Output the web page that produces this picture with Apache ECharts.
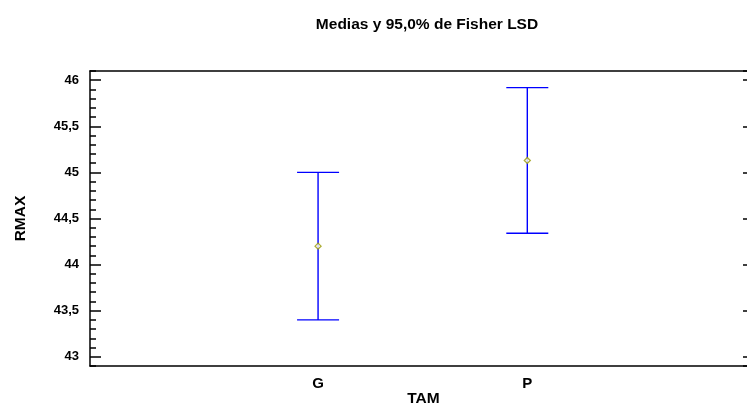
<!DOCTYPE html>
<html>
<head>
<meta charset="utf-8">
<script src="https://cdn.jsdelivr.net/npm/echarts@6/dist/echarts.min.js"></script>
<style>html,body{margin:0;padding:0;background:#fff}#c{width:747px;height:407px}</style>
</head>
<body>
<div id="c"></div>
<script>
const categories = ['G', 'P'];
const catPos = [1, 2];
const means = [44.20, 45.13];
const lower = [43.40, 44.34];
const upper = [45.00, 45.92];
const titleText = 'Medias y 95,0% de Fisher LSD';
const xName = 'TAM';
const yName = 'RMAX';

const FONT = '"Liberation Sans", Arial, sans-serif';
const chart = echarts.init(document.getElementById('c'), null, {renderer: 'canvas'});

const barData = categories.map((c, i) => [catPos[i], lower[i], upper[i]]);
const meanData = categories.map((c, i) => [catPos[i], means[i]]);

function fmtY(v) {
  const r = Math.round(v * 10) / 10;
  if (Math.abs(r * 2 - Math.round(r * 2)) > 1e-6) return '';
  return String(r).replace('.', ',');
}

const yRange = {min: 42.9, max: 46.1};

chart.setOption({
  animation: false,
  title: {
    text: titleText, left: 422, top: 12, textAlign: 'center',
    textStyle: {fontFamily: FONT, fontWeight: 'bold', fontSize: 15.5, color: '#000'}
  },
  grid: {left: 90, right: 0, top: 71, bottom: 41, containLabel: false, outerBoundsMode: 'none'},
  xAxis: [
    {
      type: 'value', position: 'bottom', min: -0.09, max: 3.05, splitNumber: 3,
      axisLine: {show: true, lineStyle: {color: '#000', width: 1.5}},
      axisTick: {show: false}, splitLine: {show: false},
      axisLabel: {
        show: true, showMinLabel: false, showMaxLabel: false, margin: 10,
        fontFamily: FONT, fontWeight: 'bold', fontSize: 15, color: '#000',
        formatter: v => { const i = catPos.indexOf(Math.round(v * 1000) / 1000); return i >= 0 ? categories[i] : ''; }
      },
      name: xName, nameLocation: 'middle', nameGap: 25, nameMoveOverlap: false,
      nameTextStyle: {fontFamily: FONT, fontWeight: 'bold', fontSize: 15.5, color: '#000', padding: [0, 0, 0, 10]}
    },
    {
      type: 'value', position: 'top', min: -0.09, max: 3.05,
      axisLine: {show: true, lineStyle: {color: '#000', width: 1.5}},
      axisTick: {show: false}, axisLabel: {show: false}, splitLine: {show: false}
    }
  ],
  yAxis: [
    {
      type: 'value', position: 'left', min: yRange.min, max: yRange.max, splitNumber: 6,
      axisLine: {show: true, onZero: false, lineStyle: {color: '#000', width: 1.5}},
      axisTick: {show: true, inside: true, length: 11, lineStyle: {color: '#000', width: 1.5}},
      minorTick: {show: false},
      splitLine: {show: false},
      axisLabel: {
        showMinLabel: false, showMaxLabel: false, margin: 11,
        fontFamily: FONT, fontWeight: 'bold', fontSize: 13, color: '#000', formatter: fmtY
      },
      name: yName, nameLocation: 'middle', nameGap: 61, nameRotate: 90, nameMoveOverlap: false,
      nameTextStyle: {fontFamily: FONT, fontWeight: 'bold', fontSize: 15.5, color: '#000'}
    },
    {
      type: 'value', position: 'left', min: yRange.min, max: yRange.max, interval: 0.1,
      axisLine: {show: false, onZero: false},
      axisTick: {show: true, inside: true, length: 6, lineStyle: {color: '#000', width: 1.5}},
      axisLabel: {show: false}, splitLine: {show: false}
    },
    {
      type: 'value', position: 'right', min: yRange.min, max: yRange.max, splitNumber: 6,
      axisLine: {show: false, onZero: false},
      axisTick: {show: true, inside: true, length: 4, lineStyle: {color: '#000', width: 1.5}},
      axisLabel: {show: false}, splitLine: {show: false}
    }
  ],
  series: [
    {
      type: 'custom', xAxisIndex: 0, yAxisIndex: 0, data: barData,
      renderItem: function (params, api) {
        const x = api.value(0);
        const lo = api.coord([x, api.value(1)]);
        const hi = api.coord([x, api.value(2)]);
        const hw = 21;
        const style = {stroke: '#0000FF', lineWidth: 1.4, fill: null};
        return {
          type: 'group',
          children: [
            {type: 'line', shape: {x1: lo[0], y1: lo[1], x2: hi[0], y2: hi[1]}, style: style},
            {type: 'line', shape: {x1: hi[0] - hw, y1: hi[1], x2: hi[0] + hw, y2: hi[1]}, style: style},
            {type: 'line', shape: {x1: lo[0] - hw, y1: lo[1], x2: lo[0] + hw, y2: lo[1]}, style: style}
          ]
        };
      },
      z: 2
    },
    {
      type: 'scatter', xAxisIndex: 0, yAxisIndex: 0, data: meanData,
      symbol: 'diamond', symbolSize: 6,
      itemStyle: {color: '#ffffff', borderColor: '#999900', borderWidth: 1.3},
      z: 3
    }
  ]
});
</script>
</body>
</html>
